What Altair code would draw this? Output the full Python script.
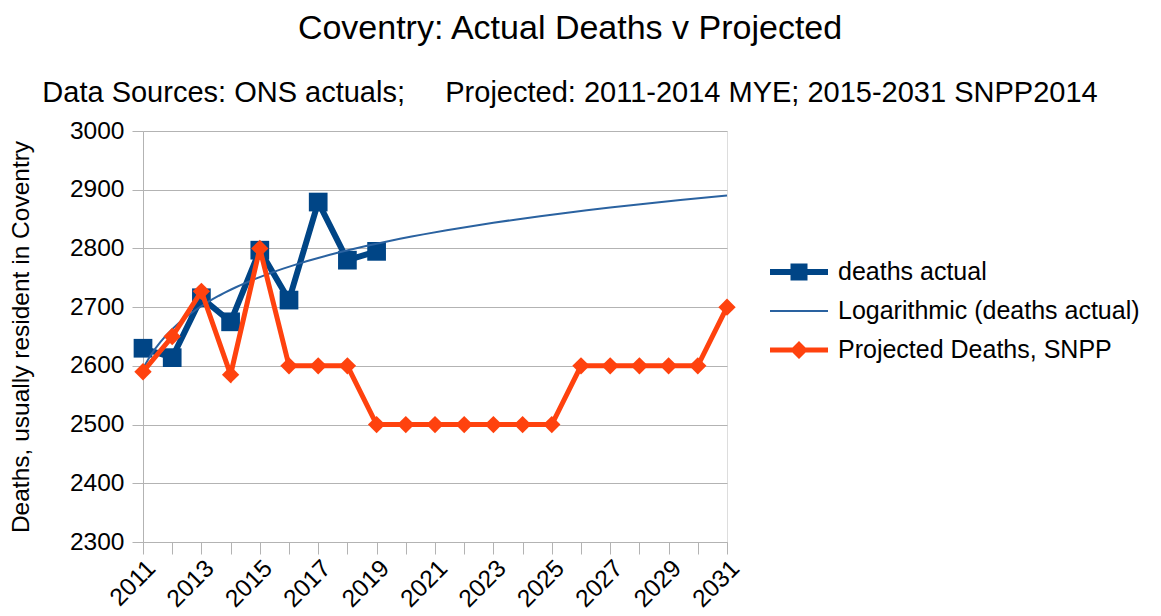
import altair as alt
import pandas as pd

# ---- data ----
years = list(range(2011, 2032))
actual_years = list(range(2011, 2020))
deaths_actual = [2630, 2614, 2716, 2675, 2797, 2712, 2879, 2780, 2795]
projected = [2590, 2650, 2727, 2585, 2800, 2600, 2600, 2600, 2500, 2500, 2500,
             2500, 2500, 2500, 2500, 2600, 2600, 2600, 2600, 2600, 2700]
y_ticks = list(range(2300, 3001, 100))

S_ACT = "deaths actual"
S_LOG = "Logarithmic (deaths actual)"
S_PRJ = "Projected Deaths, SNPP"
series = [S_ACT, S_LOG, S_PRJ]
colors = ["#004586", "#2a62a0", "#ff420e"]
legend_shapes = [
    "M-2.9,-0.3H2.9V0.3H-2.9Z M-0.85,-0.85H0.85V0.85H-0.85Z",
    "M-2.9,-0.1H2.9V0.1H-2.9Z",
    "M-2.9,-0.25H2.9V0.25H-2.9Z M0,-0.9L0.9,0L0,0.9L-0.9,0Z",
]

FONT = "Liberation Sans"
GRID = "#b3b3b3"

df_act = pd.DataFrame({"year": actual_years, "deaths": deaths_actual, "series": S_ACT})
df_prj = pd.DataFrame({"year": years, "deaths": projected, "series": S_PRJ})
df_all = pd.concat([df_act, df_prj], ignore_index=True)
df_fit = pd.DataFrame({"idx": [y - 2010 for y in actual_years], "deaths": deaths_actual})

x_enc = alt.X(
    "year:Q",
    title=None,
    scale=alt.Scale(domain=[2011, 2031], nice=False, zero=False),
    axis=alt.Axis(
        values=years, format="d",
        labelExpr="datum.value % 2 == 1 ? datum.label : ''",
        labelAngle=-45, labelFontSize=24.5, labelFont=FONT, labelColor="#000000",
        labelPadding=2, tickSize=12, tickColor=GRID, domainColor=GRID, grid=False,
        labelOverlap=False, labelFlush=False,
    ),
)
y_enc = alt.Y(
    "deaths:Q",
    title="Deaths, usually resident in Coventry",
    scale=alt.Scale(domain=[2300, 3000], nice=False, zero=False),
    axis=alt.Axis(
        values=y_ticks, format="d", labelFontSize=24.5, labelFont=FONT,
        labelColor="#000000", labelPadding=8, tickSize=11, tickColor=GRID,
        domainColor=GRID, gridColor=GRID, titleFontSize=24.5, titleFont=FONT,
        titleFontWeight="normal", titleColor="#000000", titlePadding=36,
    ),
)

legend_kw = dict(
    title=None, orient="none", legendX=643.5, legendY=128.5, padding=0,
    labelFontSize=25, labelFont=FONT, labelColor="#000000", labelOffset=26.5,
    labelLimit=0, rowPadding=13, symbolSize=400, symbolStrokeWidth=0,
    symbolOpacity=1,
)

color_enc = alt.Color("series:N", scale=alt.Scale(domain=series, range=colors),
                      legend=alt.Legend(**legend_kw))
shape_enc = alt.Shape("series:N", scale=alt.Scale(domain=series, range=legend_shapes),
                      legend=alt.Legend(**legend_kw))

legend_layer = alt.Chart(df_all).mark_point(
    filled=True, size=1, opacity=1, strokeWidth=0
).encode(x=x_enc, y=y_enc, color=color_enc, shape=shape_enc)

act_line = alt.Chart(df_act).mark_line(color=colors[0], strokeWidth=6).encode(x=x_enc, y=y_enc)
act_pts = alt.Chart(df_act).mark_point(
    shape="square", filled=True, size=350, opacity=1, color=colors[0]
).encode(x=x_enc, y=y_enc)

trend = alt.Chart(df_fit).transform_regression(
    "idx", "deaths", method="log", extent=[1, 21]
).transform_calculate(year="datum.idx + 2010").mark_line(
    color=colors[1], strokeWidth=2
).encode(x=x_enc, y=y_enc)

prj_line = alt.Chart(df_prj).mark_line(color=colors[2], strokeWidth=5).encode(x=x_enc, y=y_enc)
prj_pts = alt.Chart(df_prj).mark_point(
    shape="diamond", filled=True, size=300, opacity=1, color=colors[2]
).encode(x=x_enc, y=y_enc)

chart = alt.layer(
    legend_layer, act_line, act_pts, trend, prj_line, prj_pts
).properties(
    width=584, height=411,
    padding={"left": 0, "top": 3, "right": 0, "bottom": 0},
    title=alt.TitleParams(
        text="Coventry: Actual Deaths v Projected",
        subtitle="Data Sources: ONS actuals;\u00a0\u00a0\u00a0\u00a0 Projected: 2011-2014 MYE; 2015-2031 SNPP2014",
        font=FONT, fontSize=34, fontWeight="normal", color="#000000",
        subtitleFont=FONT, subtitleFontSize=29, subtitleColor="#000000",
        subtitlePadding=33, offset=10.5, anchor="middle", frame="group", dx=135,
    ),
).configure_view(stroke=GRID, strokeWidth=1).configure(font=FONT)

chart.save("out.html", embed_options={"renderer": "svg", "actions": False})
